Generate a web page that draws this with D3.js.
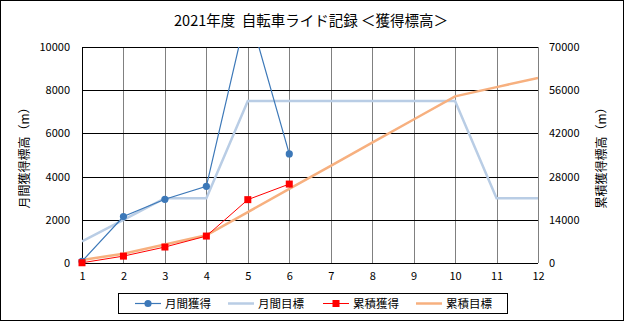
<!DOCTYPE html>
<html><head><meta charset="utf-8">
<script src="https://cdn.jsdelivr.net/npm/d3@7"></script>
<style>body{margin:0;background:#fff}svg{display:block}text{font-family:"Noto Sans CJK JP","DejaVu Sans",sans-serif}</style>
</head><body>
<svg id="c" width="625" height="322"></svg>
<script>
const months = [1,2,3,4,5,6,7,8,9,10,11,12];
const monthlyActual = [80,2150,2950,3550,11800,5050];
const monthlyTarget = [1000,2000,3000,3000,7500,7500,7500,7500,7500,7500,3000,3000];
const cumActual = [80,2230,5180,8730,20530,25580];
const cumTarget = [1000,3000,6000,9000,16500,24000,31500,39000,46500,54000,57000,60000];
const leftTicks = [0,2000,4000,6000,8000,10000];
const rightTicks = [0,14000,28000,42000,56000,70000];
const seriesNames = ["月間獲得","月間目標","累積獲得","累積目標"];
const title = "2021年度\u00a0\u00a0自転車ライド記録 ＜獲得標高＞";
const leftLabel = "月間獲得標高（m）";
const rightLabel = "累積獲得標高（m）";

const svg = d3.select("#c");
const L=82,R=538,T=47,B=263;
const x = d3.scaleLinear().domain([1,12]).range([L,R]);
const yl = d3.scaleLinear().domain([0,10000]).range([B,T]);
const yr = d3.scaleLinear().domain([0,70000]).range([B,T]);

svg.append("rect").attr("x",0.5).attr("y",0.5).attr("width",623).attr("height",320).attr("fill","#fff").attr("stroke","#000");

svg.append("defs").append("clipPath").attr("id","clip").append("rect").attr("x",L).attr("y",T).attr("width",R-L).attr("height",B-T);

svg.append("g").selectAll("line").data(months.slice(1)).join("line")
 .attr("x1",d=>Math.round(x(d))+0.5).attr("x2",d=>Math.round(x(d))+0.5).attr("y1",T).attr("y2",B)
 .attr("stroke","#808080");
svg.append("g").selectAll("line").data(leftTicks).join("line")
 .attr("x1",L).attr("x2",R).attr("y1",d=>Math.round(yl(d))+0.5).attr("y2",d=>Math.round(yl(d))+0.5)
 .attr("stroke","#000");
svg.append("line").attr("x1",L+0.5).attr("x2",L+0.5).attr("y1",T).attr("y2",B+0.5).attr("stroke","#000");

const axL = svg.append("g").attr("transform",`translate(${L},0)`).call(d3.axisLeft(yl).tickValues(leftTicks).tickSize(0).tickPadding(12).tickFormat(d3.format("d")));
const axR = svg.append("g").attr("transform",`translate(${R},0)`).call(d3.axisRight(yr).tickValues(rightTicks).tickSize(0).tickPadding(11).tickFormat(d3.format("d")));
const axB = svg.append("g").attr("transform",`translate(0,${B})`).call(d3.axisBottom(x).tickValues(months).tickSize(0).tickPadding(9).tickFormat(d3.format("d")));
[axL,axR,axB].forEach(a=>{a.select(".domain").remove();a.selectAll("text").attr("font-size",11).attr("fill","#000");});

svg.append("text").attr("x",311).attr("y",26).attr("text-anchor","middle").attr("font-size",14.5).text(title);
svg.append("text").attr("transform","translate(29,155) rotate(-90)").attr("text-anchor","middle").attr("font-size",12).text(leftLabel);
svg.append("text").attr("transform","translate(606,155) rotate(-90)").attr("text-anchor","middle").attr("font-size",12).text(rightLabel);

const g = svg.append("g").attr("clip-path","url(#clip)");
const C = {ma:"#3c78b8",mt:"#b9cde5",ca:"#ff0000",ct:"#f7b07f"};
const lineL = d3.line().x((d,i)=>x(months[i])).y(d=>yl(d));
const lineR = d3.line().x((d,i)=>x(months[i])).y(d=>yr(d));
g.append("path").attr("d",lineL(monthlyTarget)).attr("fill","none").attr("stroke",C.mt).attr("stroke-width",2.5);
g.append("path").attr("d",lineR(cumTarget)).attr("fill","none").attr("stroke",C.ct).attr("stroke-width",2.5);
g.append("path").attr("d",lineL(monthlyActual)).attr("fill","none").attr("stroke",C.ma).attr("stroke-width",1.2);
g.append("path").attr("d",lineR(cumActual)).attr("fill","none").attr("stroke",C.ca).attr("stroke-width",1);
svg.append("g").selectAll("circle").data(monthlyActual.map((v,i)=>[months[i],v]).filter(d=>d[1]<=10000)).join("circle")
 .attr("cx",d=>x(d[0])).attr("cy",d=>yl(d[1])).attr("r",3.6).attr("fill",C.ma);
svg.append("g").selectAll("rect").data(cumActual.map((v,i)=>[months[i],v])).join("rect")
 .attr("x",d=>x(d[0])-3.5).attr("y",d=>yr(d[1])-3.5).attr("width",7).attr("height",7).attr("fill",C.ca);

const lg = svg.append("g");
lg.append("rect").attr("x",118.5).attr("y",293.5).attr("width",389).attr("height",20).attr("fill","#fff").attr("stroke","#000");
const lx=[135,228,323,416];
const cols=[C.ma,C.mt,C.ca,C.ct], widths=[1.2,2.5,1,2.5];
seriesNames.forEach((n,i)=>{
  lg.append("line").attr("x1",lx[i]).attr("x2",lx[i]+26).attr("y1",303.5).attr("y2",303.5).attr("stroke",cols[i]).attr("stroke-width",widths[i]);
  if(i===0) lg.append("circle").attr("cx",lx[i]+13).attr("cy",303.5).attr("r",3.6).attr("fill",cols[i]);
  if(i===2) lg.append("rect").attr("x",lx[i]+9.5).attr("y",300).attr("width",7).attr("height",7).attr("fill",cols[i]);
  lg.append("text").attr("x",lx[i]+30).attr("y",307.5).attr("font-size",11.5).text(n);
});
</script>
</body></html>
